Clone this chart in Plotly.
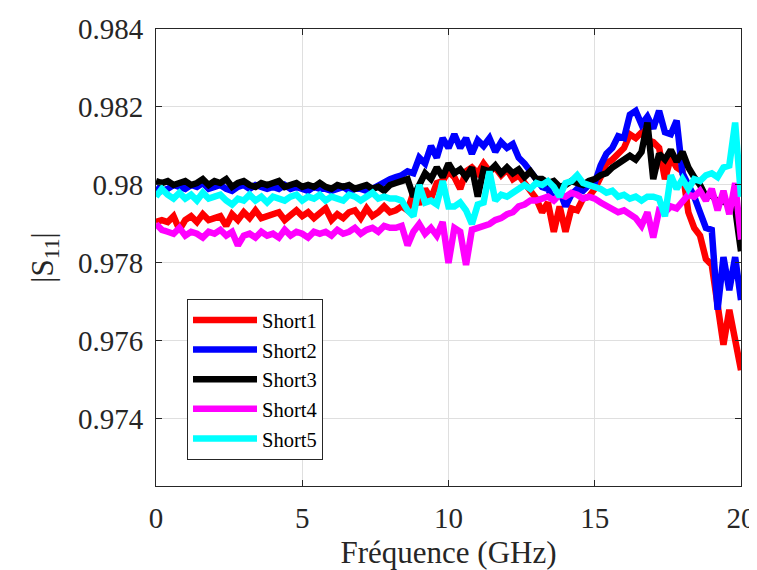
import numpy as np
import plotly.graph_objects as go

freq_ghz = np.round(np.arange(0, 101) * 0.2, 2)

short1 = [
    0.97905, 0.9791, 0.97905, 0.9792, 0.97885, 0.9791, 0.9792, 0.97905, 0.97925, 0.9791,
    0.97915, 0.9792, 0.97895, 0.97925, 0.9791, 0.9793, 0.97915, 0.97935, 0.97915, 0.9792,
    0.97925, 0.9793, 0.9791, 0.97925, 0.97935, 0.9792, 0.9793, 0.97915, 0.97925, 0.9794,
    0.9791, 0.97925, 0.97915, 0.9793, 0.97935, 0.97915, 0.9794, 0.9792, 0.9793, 0.97945, 0.9793,
    0.97935, 0.97945, 0.97935, 0.9798, 0.9795, 0.9799, 0.97965, 0.98005, 0.9801, 0.98035,
    0.9802, 0.9799, 0.98035, 0.98045, 0.9803, 0.98055, 0.98035, 0.98045, 0.98025, 0.9804,
    0.98015, 0.98025, 0.98005, 0.9799, 0.97965,
    0.9793, 0.97955, 0.9788, 0.97945, 0.9788, 0.9794, 0.97935, 0.97965, 0.9797, 0.9799,
    0.9802, 0.98055, 0.98065, 0.9808, 0.98095, 0.9813, 0.9812, 0.98135, 0.98115, 0.9811,
    0.98095, 0.98015, 0.9807, 0.98045, 0.98035,
    0.9793, 0.9789, 0.9787, 0.9781, 0.97795, 0.977, 0.9759, 0.9768, 0.9759, 0.97525,
]

short2 = [
    0.97995, 0.97985, 0.9799, 0.98, 0.97995, 0.9799, 0.98, 0.97995, 0.98005, 0.9799,
    0.97995, 0.98, 0.9799, 0.97985, 0.97995, 0.98, 0.9799, 0.98, 0.97995, 0.9799,
    0.97995, 0.9799, 0.98, 0.9799, 0.97995, 0.9799, 0.97985, 0.97995, 0.9799, 0.9799,
    0.97985, 0.9799, 0.97995, 0.97985, 0.9799, 0.9799, 0.97985, 0.9799, 0.98, 0.98005, 0.98015,
    0.9802, 0.98025, 0.98035, 0.9803, 0.9807, 0.98055, 0.981, 0.9807, 0.9812, 0.98095,
    0.9813, 0.98095, 0.9812, 0.9808, 0.98115, 0.981, 0.9812, 0.98085, 0.9811, 0.98095,
    0.98105, 0.9807, 0.98055, 0.98035, 0.98015,
    0.97995, 0.9799, 0.9796, 0.97985, 0.97945, 0.97975, 0.9799, 0.97985, 0.98, 0.98005,
    0.9805, 0.9808, 0.98095, 0.98125, 0.9812, 0.9818, 0.9819, 0.98155, 0.98175, 0.98145,
    0.9819, 0.98135, 0.9813, 0.98165, 0.9803,
    0.98, 0.9797, 0.9793, 0.9789, 0.97885, 0.9768, 0.97815, 0.9773, 0.97815, 0.97705,
]

short3 = [
    0.9801, 0.98005, 0.9801, 0.98, 0.98005, 0.9801, 0.98, 0.98005, 0.98015, 0.98,
    0.9801, 0.98005, 0.98015, 0.97995, 0.98005, 0.9801, 0.98, 0.97995, 0.98005, 0.98,
    0.98005, 0.9801, 0.97995, 0.98, 0.98005, 0.97995, 0.98, 0.97995, 0.98005, 0.97995,
    0.9799, 0.98, 0.97995, 0.98, 0.9799, 0.97995, 0.98, 0.9799, 0.97995, 0.97985, 0.98,
    0.98005, 0.9801, 0.98015, 0.9797, 0.98005, 0.9803, 0.98015, 0.98045, 0.9802, 0.98055,
    0.9803, 0.9804, 0.9802, 0.98045, 0.9797, 0.9804, 0.98035, 0.9805, 0.9803, 0.98045,
    0.9803, 0.9804, 0.9802, 0.98035, 0.98015,
    0.98015, 0.98005, 0.9801, 0.97995, 0.98, 0.9801, 0.98005, 0.98, 0.9801, 0.98015,
    0.98025, 0.9803, 0.98045, 0.98055, 0.9806, 0.98075, 0.98065, 0.98085, 0.9816, 0.98015,
    0.9808, 0.98065, 0.9809, 0.9806, 0.98085,
    0.98045, 0.9802, 0.98, 0.9797, 0.97975, 0.97955, 0.9796, 0.97945, 0.9794, 0.9783,
]

short4 = [
    0.979, 0.97885, 0.9788, 0.97875, 0.9789, 0.9787, 0.9788, 0.97875, 0.97865, 0.9788,
    0.97875, 0.97885, 0.9787, 0.9788, 0.97845, 0.9787, 0.97875, 0.97865, 0.9788, 0.9787,
    0.97875, 0.97865, 0.97885, 0.9787, 0.9788, 0.97875, 0.97865, 0.9788, 0.97875, 0.9788,
    0.9787, 0.97885, 0.97875, 0.9788, 0.9789, 0.97875, 0.97885, 0.9789, 0.9788, 0.97895, 0.9789,
    0.9789, 0.97895, 0.97845, 0.9788, 0.979, 0.97875, 0.9789, 0.9787, 0.97905, 0.978,
    0.9789, 0.9788, 0.97795, 0.97885, 0.9789, 0.97895, 0.979, 0.9791, 0.97915, 0.97925,
    0.9793, 0.97945, 0.9795, 0.9796, 0.9796,
    0.97965, 0.9797, 0.9796, 0.97975, 0.9797, 0.9798, 0.97975, 0.97965, 0.9797, 0.97965,
    0.97955, 0.97945, 0.9794, 0.9793, 0.97935, 0.97925, 0.97915, 0.97895, 0.9793, 0.97865,
    0.97935, 0.9793, 0.97945, 0.9794, 0.9796,
    0.97975, 0.9797, 0.97985, 0.9796, 0.9799, 0.97935, 0.97985, 0.97925, 0.98005, 0.9786,
]

short5 = [
    0.9797, 0.9799, 0.97975, 0.97965, 0.9798, 0.97965, 0.97975, 0.9796, 0.9798, 0.97965,
    0.9797, 0.97975, 0.9796, 0.9795, 0.97965, 0.9796, 0.97975, 0.9796, 0.9797, 0.97955,
    0.9797, 0.97965, 0.9796, 0.9797, 0.97975, 0.9796, 0.9797, 0.97965, 0.97975, 0.9796,
    0.9797, 0.97965, 0.9796, 0.97975, 0.9797, 0.9796, 0.9797, 0.9798, 0.97965, 0.9797, 0.97965,
    0.97965, 0.9796, 0.97935, 0.9792, 0.98, 0.97955, 0.9796, 0.9795, 0.9801, 0.97945,
    0.97945, 0.97955, 0.97935, 0.979, 0.9795, 0.97955, 0.98035, 0.9796, 0.97975, 0.9797,
    0.9798, 0.97985, 0.98, 0.9799, 0.98005,
    0.98, 0.9801, 0.97995, 0.9797, 0.98005, 0.9801, 0.98025, 0.98005, 0.98, 0.97995,
    0.9799, 0.9798, 0.97985, 0.9797, 0.97975, 0.97965, 0.9797, 0.9796, 0.9797, 0.9797,
    0.97965, 0.9792, 0.98025, 0.9799, 0.98015,
    0.9799, 0.98015, 0.9801, 0.98025, 0.9803, 0.9802, 0.98045, 0.9805, 0.9816, 0.9797,
]

series_names = ["Short1", "Short2", "Short3", "Short4", "Short5"]
series_colors = ["#ff0000", "#0000ff", "#000000", "#ff00ff", "#00ffff"]
x_ticks = [0, 5, 10, 15, 20]
y_ticks = [0.974, 0.976, 0.978, 0.980, 0.982, 0.984]
y_tick_labels = ["0.974", "0.976", "0.978", "0.98", "0.982", "0.984"]

FONT = "Liberation Serif"
AX = "#262626"

fig = go.Figure()
for name, color, vals in zip(series_names, series_colors,
                             [short1, short2, short3, short4, short5]):
    fig.add_trace(go.Scatter(x=freq_ghz, y=vals, mode="lines", name=name,
                             line=dict(color=color, width=6.5)))

axis_common = dict(
    showline=True, linecolor=AX, linewidth=1, mirror="ticks",
    ticks="inside", ticklen=6, tickcolor=AX, tickwidth=1,
    showgrid=True, gridcolor="#dfdfdf", gridwidth=1, zeroline=False,
    tickfont=dict(family=FONT, size=29, color=AX),
    automargin=False,
)

# page body has an 8px default margin, so the figure is sized to fit the window
fig.update_layout(
    width=749, height=562,
    margin=dict(l=148, r=16, t=21, b=84),
    paper_bgcolor="white", plot_bgcolor="white",
    font=dict(family=FONT, color=AX),
    xaxis=dict(range=[0, 20], tickvals=x_ticks, ticklabelstandoff=6,
               title=dict(text="Fréquence (GHz)", font=dict(family=FONT, size=31, color=AX)),
               **axis_common),
    yaxis=dict(range=[0.97228, 0.984], tickvals=y_ticks, ticktext=y_tick_labels,
               ticklabelstandoff=6,
               title=dict(text="|S<sub>11</sub>|", font=dict(family=FONT, size=31, color=AX)),
               **axis_common),
    legend=dict(x=0.053, y=0.409, xanchor="left", yanchor="top",
                bgcolor="white", bordercolor=AX, borderwidth=1,
                font=dict(family=FONT, size=20.5, color="black"),
                tracegroupgap=0, itemwidth=64),
    showlegend=True,
)

fig.write_html("out.html")
